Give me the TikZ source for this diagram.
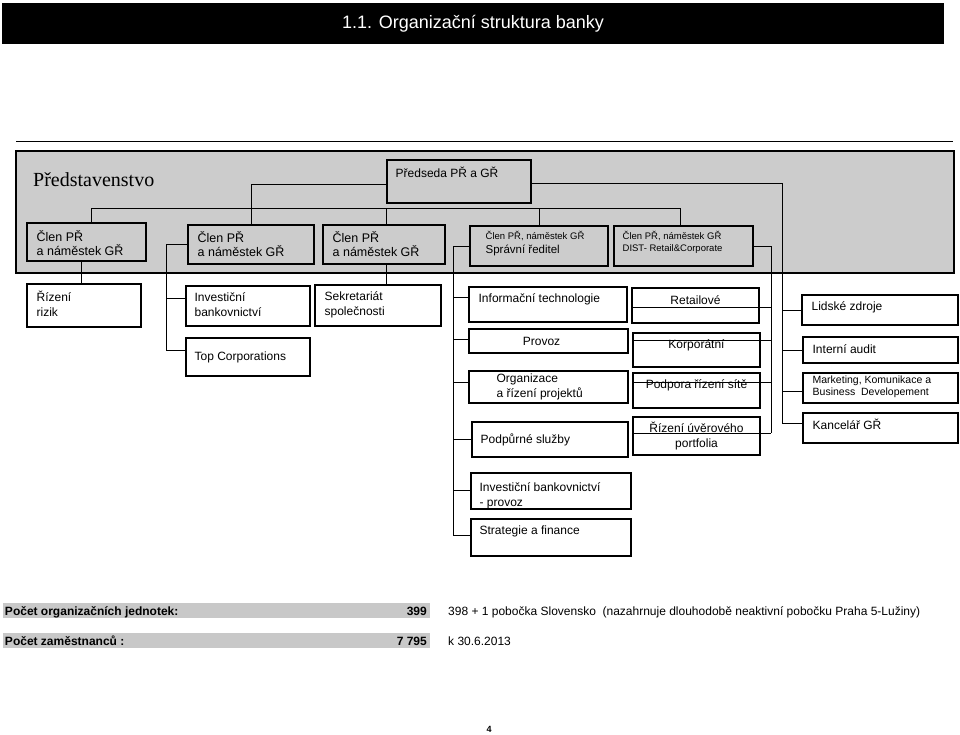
\documentclass[tikz,border=0pt]{standalone}
\usepackage{fontspec}
\setmainfont{Liberation Sans}
\newfontfamily\serifF{Liberation Serif}
\definecolor{boardgray}{RGB}{204,204,204}
\definecolor{bargray}{RGB}{200,200,200}
\newcommand\mkbox[6][box]{\node[#1, minimum width={#5-#3}, minimum height={#6-#4}] (#2) at ({(#3+#5)/2},{(#4+#6)/2}) {};}
\newcommand\branch[3][0]{\path (#2.west) ++(0,{-(#1)}) coordinate (#2-b); \draw[conn] (#2-b) -- (#2-b -| #3);}
\begin{document}
\begin{tikzpicture}[x=1pt,y=-1pt,
  box/.style={draw=black, line width=1.1pt, fill=white, inner sep=0pt},
  gbox/.style={box, fill=boardgray},
  board/.style={draw=black, line width=1.5pt, fill=boardgray, inner sep=0pt},
  conn/.style={draw=black, line width=0.9pt},
  txt/.style={inner sep=0pt, align=left, font=\fontsize{12}{14.5}\selectfont},
  ctxt/.style={txt, align=center},
  mtxt/.style={inner sep=0pt, align=left, font=\fontsize{12.5}{14}\selectfont},
  stxt/.style={inner sep=0pt, align=left, font=\fontsize{9.5}{12}\selectfont},
  btxt/.style={inner sep=0pt, font=\bfseries\fontsize{12}{14}\selectfont},
  ntxt/.style={inner sep=0pt, font=\fontsize{12}{14}\selectfont}]
\useasboundingbox (0,0) rectangle (960,734);
% title bar
\node[fill=black, minimum width=942, minimum height=41, inner sep=0pt, text=white,
  font=\fontsize{18}{20}\selectfont] (title) at (473,23.5) {1.1. Organizační struktura banky};
% board
\draw[line width=0.8pt] (16,141) -- (953,141);
\mkbox[board]{brd}{16}{151}{954}{273}
\node[anchor=west, inner sep=0pt, font=\serifF\fontsize{20}{22}\selectfont] (tBrd) at (33,180) {Představenstvo};
\mkbox[gbox]{pred}{387}{160}{531}{203}
\node[anchor=west, ntxt] (tPred) at ([xshift=9pt,yshift=9pt]pred.west) {Předseda PŘ a GŘ};
\mkbox[gbox]{c1}{27}{223}{146}{261}
\mkbox[gbox]{c2}{188}{225}{314}{264}
\mkbox[gbox]{c3}{323}{225}{445}{264}
\mkbox[gbox]{c4}{470}{226}{608}{266}
\mkbox[gbox]{c5}{614}{226}{753}{266}
\node[anchor=west, mtxt] (t1) at ([xshift=10pt,yshift=-1.5pt]c1.west) {Člen PŘ\\a náměstek GŘ};
\node[anchor=west, mtxt] (t2) at ([xshift=10pt]c2.west) {Člen PŘ\\a náměstek GŘ};
\node[anchor=west, mtxt] (t3) at ([xshift=10pt]c3.west) {Člen PŘ\\a náměstek GŘ};
\node[anchor=west, inner sep=0pt, align=left, font=\fontsize{9.5}{14}\selectfont] (t4) at ([xshift=16pt,yshift=2pt]c4.west) {Člen PŘ, náměstek GŘ\\{\fontsize{11.5}{13}\selectfont Správní ředitel}};
\node[anchor=west, stxt] (t5) at ([xshift=9pt,yshift=3.5pt]c5.west) {Člen PŘ, náměstek GŘ\\DIST- Retail\&Corporate};
% departments
\mkbox{riz}{27}{284}{141}{327}
\mkbox{ib}{186}{286}{310}{326}
\mkbox{sek}{315}{285}{441}{326}
\mkbox{topc}{186}{338}{310}{376}
\mkbox{it}{469}{287}{627}{322}
\mkbox{ret}{632}{288}{759}{323}
\mkbox{hr}{802}{295}{958}{325}
\mkbox{prov}{469}{329}{628}{353}
\mkbox{kor}{633}{333}{760}{367}
\mkbox{audit}{803}{337}{958}{363}
\mkbox{org}{469}{371}{628}{403}
\mkbox{pod}{633}{373}{760}{408}
\mkbox{mkt}{803}{373}{958}{403}
\mkbox{podp}{472}{422}{628}{457}
\mkbox{ruv}{633}{417}{760}{455}
\mkbox{kanc}{803}{413}{958}{443}
\mkbox{ibp}{471}{473}{631}{509}
\mkbox{strat}{471}{519}{631}{556}
\node[anchor=west, txt] (triz) at ([xshift=10pt,yshift=2pt]riz.west) {Řízení\\rizik};
\node[anchor=west, txt] (tib) at ([xshift=9pt,yshift=1.5pt]ib.west) {Investiční\\bankovnictví};
\node[anchor=west, txt] (tsek) at ([xshift=10pt,yshift=0.5pt]sek.west) {Sekretariát\\společnosti};
\node[anchor=west, txt] (ttop) at ([xshift=9pt]topc.west) {Top Corporations};
\node[anchor=west, txt] (tit) at ([xshift=10pt,yshift=5.5pt]it.west) {Informační technologie};
\node[ctxt] (tret) at ([yshift=5.5pt]ret.center) {Retailové};
\node[anchor=west, txt] (thr) at ([xshift=10pt,yshift=3pt]hr.west) {Lidské zdroje};
\node[ctxt] (tprov) at ([xshift=-7pt]prov.center) {Provoz};
\node[ctxt] (tkor) at ([yshift=5pt]kor.center) {Korporátní};
\node[anchor=west, txt] (taudit) at ([xshift=10pt,yshift=1pt]audit.west) {Interní audit};
\node[anchor=west, txt] (torg) at ([xshift=28pt]org.west) {Organizace\\a řízení projektů};
\node[ctxt] (tpod) at ([yshift=5pt]pod.center) {Podpora řízení sítě};
\node[anchor=west, inner sep=0pt, align=left, font=\fontsize{10.5}{12.5}\selectfont] (tmkt) at ([xshift=10pt,yshift=1pt]mkt.west) {Marketing, Komunikace a\\Business\ \ Developement};
\node[anchor=west, txt] (tpodp) at ([xshift=9pt]podp.west) {Podpůrné služby};
\node[ctxt] (truv) at (ruv.center) {Řízení úvěrového\\portfolia};
\node[anchor=west, txt] (tkanc) at ([xshift=10pt,yshift=4pt]kanc.west) {Kancelář GŘ};
\node[anchor=west, txt] (tibp) at ([xshift=9pt,yshift=-5pt]ibp.west) {Investiční bankovnictví\\- provoz};
\node[anchor=west, txt] (tstrat) at ([xshift=9pt,yshift=6pt]strat.west) {Strategie a finance};
% connectors inside board
\coordinate (bus) at (0,208);
\path (c1.north) ++(4.5,0) coordinate (c1u);
\path (c5.north) ++(-3.5,0) coordinate (c5u);
\path (c3.north) ++(2,0) coordinate (c3u);
\draw[conn] (c1u) |- (bus -| c5u) -- (c5u);
\draw[conn] (c3u) -- (c3u |- bus);
\draw[conn] (c4.north) -- (c4.north |- bus);
\path (pred.west) ++(0,2.5) coordinate (predl);
\draw[conn] (predl) -| (c2.north);
\coordinate (trP) at (782,423);
\path (pred.east) ++(0,1.5) coordinate (predr);
\draw[conn] (predr) -| (trP);
% member -> departments
\path (c1.south) ++(-5.5,0) coordinate (c1d);
\draw[conn] (c1d) -- (c1d |- riz.north);
\path (c3.south) ++(2,0) coordinate (c3d);
\draw[conn] (c3d) -- (c3d |- sek.north);
\coordinate (tr2) at (166,350);
\draw[conn] (c2.west) -| (tr2);
\branch[8]{ib}{tr2}
\branch[7]{topc}{tr2}
\coordinate (tr4) at (453,535);
\draw[conn] (c4.west) -| (tr4);
\branch[7.5]{it}{tr4}
\branch[2]{prov}{tr4}
\branch[5]{org}{tr4}
\branch[0]{podp}{tr4}
\branch[1]{ibp}{tr4}
\branch[2.5]{strat}{tr4}
\coordinate (tr5) at (771,433);
\draw[conn] (c5.east) -| (tr5);
\branch[-1.5]{ret}{tr5}
\branch[10]{kor}{tr5}
\branch[8.5]{pod}{tr5}
\branch[3]{ruv}{tr5}
\branch[0]{hr}{trP}
\branch[0]{audit}{trP}
\branch[-3]{mkt}{trP}
\branch[5]{kanc}{trP}
% bottom table
\node[fill=bargray, minimum width=427, minimum height=15, inner sep=0pt] (row1) at (216.5,610.5) {};
\node[fill=bargray, minimum width=427, minimum height=15, inner sep=0pt] (row2) at (216.5,640.5) {};
\path (row1.west) ++(2,4.5) coordinate (row1b);
\path (row2.west) ++(2,4.5) coordinate (row2b);
\node[anchor=base west, btxt] (r1l) at (row1b) {Počet organizačních jednotek:};
\node[anchor=base east, btxt] (r1v) at (row1b -| 427,0) {399};
\node[anchor=base west, btxt] (r2l) at (row2b) {Počet zaměstnanců :};
\node[anchor=base east, btxt] (r2v) at (row2b -| 427,0) {7 795};
\node[anchor=base west, ntxt] (r1n) at (row1b -| 448,0) {398 + 1 pobočka Slovensko\ \ (nazahrnuje dlouhodobě neaktivní pobočku Praha 5-Lužiny)};
\node[anchor=base west, ntxt] (r2n) at (row2b -| 448,0) {k 30.6.2013};
\node[inner sep=0pt, font=\bfseries\fontsize{9}{10}\selectfont] (pg) at (489,729) {4};
\end{tikzpicture}
\end{document}
